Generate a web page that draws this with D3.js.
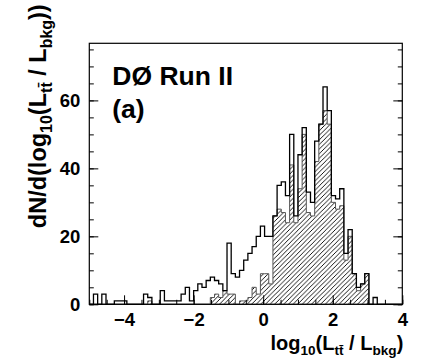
<!DOCTYPE html>
<html>
<head>
<meta charset="utf-8">
<script src="https://cdn.jsdelivr.net/npm/d3@7"></script>
<style>
  body { margin: 0; background: #fff; }
  text { font-family: "Liberation Sans", Arial, Helvetica, sans-serif; font-weight: bold; fill: #000; }
</style>
</head>
<body>
<div id="chart"></div>
<script>
// Histogram binning: 75 bins of 0.12 starting at -5
var xLow = -5,
    binWidth = 0.12;

// open histogram (all events)
var totalCounts = [
  0, 3, 0, 3, 0, 0, 1, 1, 1, 0,
  0, 0, 0, 3, 2, 0, 0, 4, 1, 1,
  1, 1, 3, 5, 1, 4, 6, 5, 7, 8,
  7, 6, 4, 18, 9, 8, 10, 13, 15, 17,
  20, 23, 20, 20, 26, 35, 36, 32, 50, 26,
  44, 52, 33, 30, 48, 53, 64, 57, 32, 31,
  34, 15, 22, 9, 5, 6, 9, 0, 2, 0,
  0, 0, 0, 0, 0
];

// hatched histogram
var hatchedCounts = [
  0, 0, 0, 0, 0, 0, 0, 0, 0, 0,
  0, 0, 0, 0, 1, 0, 0, 0, 0, 0,
  0, 0, 0, 0, 0, 0, 0, 0, 0, 2,
  3, 2, 4, 3, 3, 0, 1, 1, 2, 5,
  3, 9, 9, 6, 26, 28, 27, 24, 41, 24,
  34, 50, 27, 26, 42, 53, 57, 53, 30, 28,
  29, 13, 20, 9, 4, 6, 9, 0, 0, 0,
  0, 0, 0, 0, 0
];

var xTicks = [-4, -2, 0, 2, 4],
    yTicks = [0, 20, 40, 60];

var margin = { top: 43.3, right: 45.7, bottom: 58.7, left: 89.3 },
    width = 448 - margin.left - margin.right,
    height = 363 - margin.top - margin.bottom;

var xScale = d3.scaleLinear()
    .domain([-5, 4])
    .range([0, width]);

var yScale = d3.scaleLinear()
    .domain([0, 64 * 1.2])
    .range([height, 0]);

var svg = d3.select("#chart").append("svg")
    .attr("width", 448)
    .attr("height", 363)
  .append("g")
    .attr("transform", "translate(" + margin.left + "," + margin.top + ")");

// "/" hatching like ROOT fill style 3004
svg.append("defs").append("pattern")
    .attr("id", "hatch")
    .attr("patternUnits", "userSpaceOnUse")
    .attr("width", 4.6)
    .attr("height", 4.6)
  .append("path")
    .attr("d", "M-1,1 l2,-2 M0,4.6 l4.6,-4.6 M3.6,5.6 l2,-2")
    .attr("stroke", "#000")
    .attr("stroke-width", 0.9);

// histogram -> step outline points
function steps(counts) {
  var pts = [[xLow, 0]];
  counts.forEach(function(c, i) {
    pts.push([xLow + i * binWidth, c]);
    pts.push([xLow + (i + 1) * binWidth, c]);
  });
  pts.push([xLow + counts.length * binWidth, 0]);
  return pts;
}

var line = d3.line()
    .x(function(d) { return xScale(d[0]); })
    .y(function(d) { return yScale(d[1]); });

svg.append("path")
    .attr("d", line(steps(hatchedCounts)) + "Z")
    .attr("fill", "url(#hatch)")
    .attr("stroke", "#555")
    .attr("stroke-width", 1);

svg.append("path")
    .attr("d", line(steps(totalCounts)))
    .attr("fill", "none")
    .attr("stroke", "#000")
    .attr("stroke-width", 1.3);

// frame
svg.append("rect")
    .attr("width", width)
    .attr("height", height)
    .attr("fill", "none")
    .attr("stroke", "#000")
    .attr("stroke-width", 1.2);

// axes, ticks pointing inward
var minorX = d3.range(-5, 4.01, 0.5),
    minorY = d3.range(0, 76, 5);

svg.append("g")
    .attr("transform", "translate(0," + height + ")")
    .call(d3.axisBottom(xScale).tickValues(minorX).tickSize(-4.5).tickFormat(""));

svg.append("g")
    .attr("class", "x-axis")
    .attr("transform", "translate(0," + height + ")")
    .call(d3.axisBottom(xScale).tickValues(xTicks).tickSize(-9).tickPadding(9));

svg.append("g")
    .call(d3.axisLeft(yScale).tickValues(minorY).tickSize(-4.5).tickFormat(""));

svg.append("g")
    .attr("class", "y-axis")
    .call(d3.axisLeft(yScale).tickValues(yTicks).tickSize(-9).tickPadding(9));

svg.append("g")
    .attr("transform", "translate(" + width + ",0)")
    .call(d3.axisRight(yScale).tickValues(minorY).tickSize(-4.5).tickFormat(""));

svg.append("g")
    .attr("transform", "translate(" + width + ",0)")
    .call(d3.axisRight(yScale).tickValues(yTicks).tickSize(-9).tickFormat(""));

svg.selectAll(".domain").remove();
svg.selectAll(".tick line").attr("stroke", "#000").attr("stroke-width", 1);
svg.selectAll(".x-axis text, .y-axis text")
    .attr("font-family", "Liberation Sans, Arial, sans-serif")
    .attr("font-weight", "bold")
    .attr("font-size", 18.5)
    .attr("fill", "#000");

// labels
svg.append("text")
    .attr("x", 23)
    .attr("y", 42)
    .attr("font-size", 26.5)
    .text("DØ Run II");

svg.append("text")
    .attr("x", 23)
    .attr("y", 75)
    .attr("font-size", 26.5)
    .text("(a)");

function ratioTitle(t) {
  t.append("tspan").text("log");
  t.append("tspan").attr("font-size", "0.68em").attr("dy", "0.35em").text("10");
  t.append("tspan").attr("dy", "-0.24em").text("(L");
  t.append("tspan").attr("font-size", "0.68em").attr("dy", "0.35em").text("tt\u0304");
  t.append("tspan").attr("dy", "-0.24em").text(" / L");
  t.append("tspan").attr("font-size", "0.68em").attr("dy", "0.35em").text("bkg");
  t.append("tspan").attr("dy", "-0.24em").text(")");
}

var xTitle = svg.append("text")
    .attr("x", width + 1)
    .attr("y", 307)
    .attr("text-anchor", "end")
    .attr("font-size", 20);
ratioTitle(xTitle);

var yTitle = svg.append("text")
    .attr("transform", "translate(-43,-39) rotate(-90)")
    .attr("text-anchor", "end")
    .attr("font-size", 23.5);
yTitle.append("tspan").text("dN/d(");
ratioTitle(yTitle);
yTitle.append("tspan").text(")");
</script>
</body>
</html>
